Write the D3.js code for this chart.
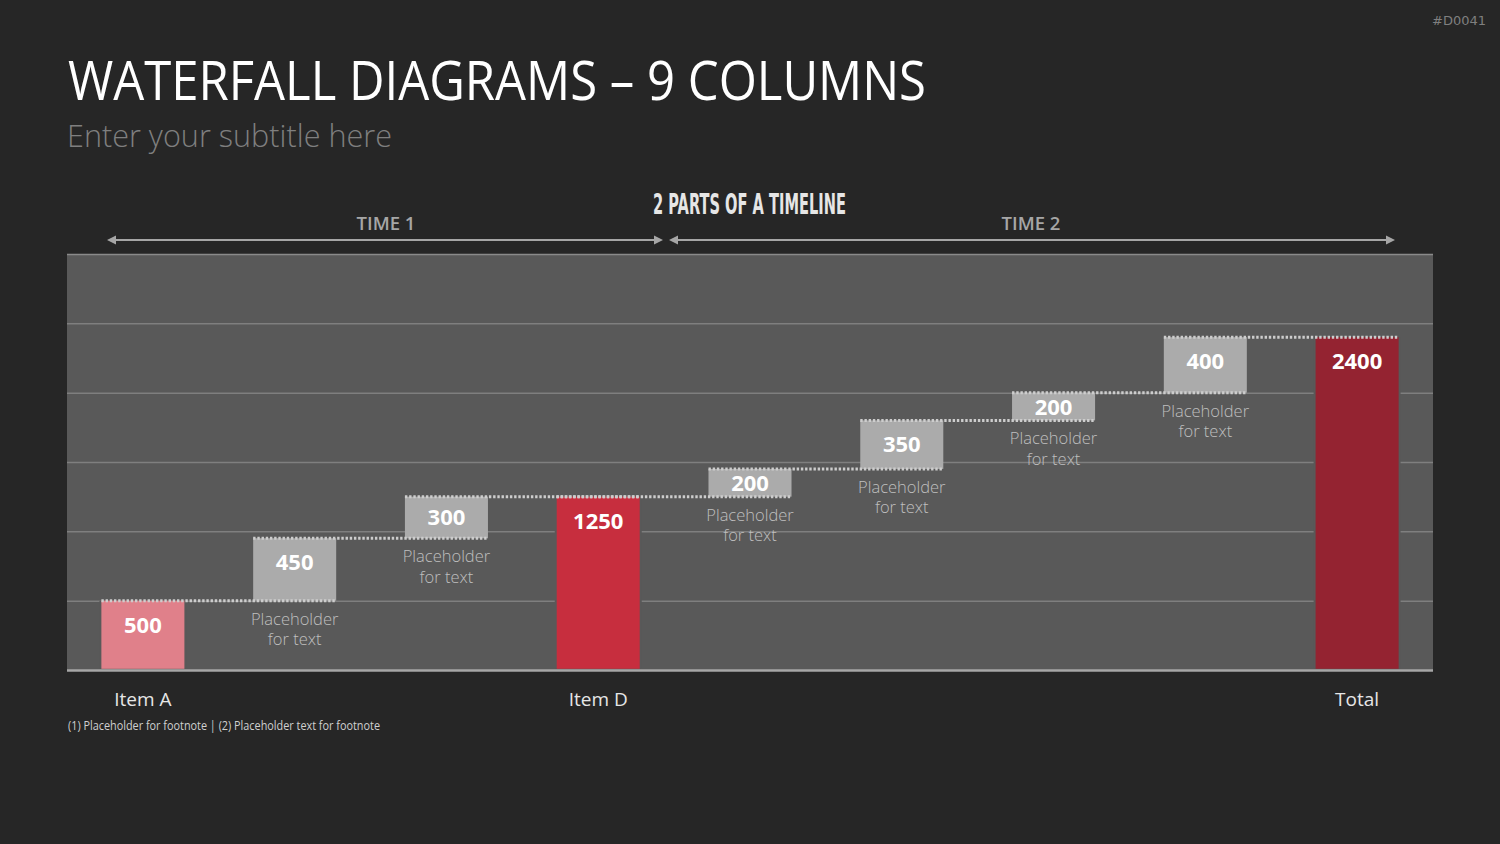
<!DOCTYPE html>
<html><head><meta charset="utf-8">
<script src="https://cdn.jsdelivr.net/npm/d3@7"></script>
<style>
html,body{margin:0;padding:0;background:#262626;}
svg{display:block;}
</style></head>
<body>
<svg id="chart" width="1500" height="844"></svg>
<script>
// ---- data ----
const categories = ["c1","c2","c3","c4","c5","c6","c7","c8","c9"];
const tickLabels = ["Item A","","","Item D","","","","","Total"];
const values = [500, 450, 300, 1250, 200, 350, 200, 400, 2400];
const kinds = ["total","delta","delta","total","delta","delta","delta","delta","total"];
const notes = ["", "Placeholder|for text", "Placeholder|for text", "", "Placeholder|for text", "Placeholder|for text", "Placeholder|for text", "Placeholder|for text", ""];
const yTicks = [0, 500, 1000, 1500, 2000, 2500, 3000];
const totalColors = ["#E0808A", "#C72E3E", "#942331"];

// ---- layout ----
const W = 1500, H = 844;
const plot = {left: 67, right: 1433, top: 254, bottom: 670};
const svg = d3.select("#chart");
svg.append("rect").attr("width", W).attr("height", H).attr("fill", "#262626");

const x = d3.scaleBand().domain(categories).range([plot.left, plot.right]).paddingInner(0.453).paddingOuter(0.2265);
const y = d3.scaleLinear().domain([0, 3000]).range([plot.bottom, plot.top]);

// compute waterfall starts/ends
let run = 0, ti = 0;
const bars = categories.map((c, i) => {
  let start, end, color;
  if (kinds[i] === "total") { start = 0; end = values[i]; run = values[i]; color = totalColors[ti++]; }
  else { start = run; end = run + values[i]; run = end; color = "#ABABAB"; }
  return {c, i, start, end, value: values[i], kind: kinds[i], color, note: notes[i]};
});

// plot background
svg.append("rect").attr("x", plot.left).attr("y", plot.top)
  .attr("width", plot.right - plot.left).attr("height", plot.bottom - plot.top).attr("fill", "#595959");

// gridlines
const grid = svg.append("g").attr("transform", `translate(${plot.left},0)`)
  .call(d3.axisLeft(y).tickValues(yTicks).tickSize(-(plot.right - plot.left)).tickFormat(""));
grid.select(".domain").remove();
grid.selectAll(".tick line").attr("stroke", "#7f7f7f").attr("stroke-width", 1.5);
grid.selectAll(".tick").filter(d => d === 0).select("line").attr("stroke", "#a6a6a6").attr("stroke-width", 2.5);
grid.selectAll(".tick").filter(d => d === 3000).select("line").attr("stroke", "#8a8a8a");

// halo behind total bars (gap in gridlines)
svg.append("g").selectAll("rect").data(bars.filter(b => b.kind === "total")).join("rect")
  .attr("x", d => x(d.c) - 2).attr("width", x.bandwidth() + 4)
  .attr("y", d => y(d.end)).attr("height", d => y(d.start) - y(d.end) - 1.5)
  .attr("fill", "#595959");

// bars
svg.append("g").selectAll("rect").data(bars).join("rect")
  .attr("x", d => x(d.c)).attr("width", x.bandwidth())
  .attr("y", d => y(d.end)).attr("height", d => y(d.start) - y(d.end) - (d.start === 0 ? 1.2 : 0))
  .attr("fill", d => d.color);

// dotted connectors
const conns = d3.pairs(bars).map(([a, b]) => ({x1: x(a.c), x2: x(b.c) + x.bandwidth(), level: a.end}));
svg.append("g").selectAll("line").data(conns).join("line")
  .attr("x1", d => d.x1).attr("x2", d => d.x2)
  .attr("y1", d => y(d.level)).attr("y2", d => y(d.level))
  .attr("stroke", "#cdcdcd").attr("stroke-width", 3).attr("stroke-dasharray", "2.4,1.8");

// value labels
svg.append("g").selectAll("text").data(bars).join("text")
  .attr("x", d => x(d.c) + x.bandwidth() / 2)
  .attr("y", d => { const h = y(d.start) - y(d.end); return y(d.end) + Math.min(24, h / 2) + 8; })
  .attr("text-anchor", "middle").attr("fill", "#ffffff")
  .attr("font-family", "'Open Sans', sans-serif").attr("font-weight", 700).attr("font-size", 22)
  .text(d => d.value);

// placeholder notes
const noteG = svg.append("g").selectAll("text").data(bars.filter(b => b.note)).join("text")
  .attr("text-anchor", "middle").attr("fill", "#bfbfbf")
  .attr("font-family", "'Open Sans', sans-serif").attr("font-weight", 300).attr("font-size", 16.5);
noteG.selectAll("tspan").data(d => d.note.split("|").map((t, k) => ({t, k, d}))).join("tspan")
  .attr("x", o => x(o.d.c) + x.bandwidth() / 2)
  .attr("y", o => y(o.d.start) + 24 + o.k * 20.5)
  .text(o => o.t);

// category axis
const xa = svg.append("g").attr("transform", `translate(0,${plot.bottom})`)
  .call(d3.axisBottom(x).tickSize(0).tickPadding(0).tickFormat((d, i) => tickLabels[i]));
xa.select(".domain").remove();
xa.selectAll("text").attr("y", 36).attr("dy", null).attr("fill", "#e6e6e6")
  .attr("font-family", "'Open Sans', sans-serif").attr("font-weight", 400).attr("font-size", 19);

// helper: place text horizontally squeezed to a target width
function fitText(sel, x0, y0, targetW) {
  const w = sel.node().getComputedTextLength();
  sel.attr("transform", `translate(${x0},${y0}) scale(${targetW / w},1)`);
}

// ---- titles ----
svg.append("text").attr("x", 68).attr("y", 100).attr("fill", "#ffffff")
  .attr("font-family", "'Open Sans', sans-serif").attr("font-size", 54)
  .attr("textLength", 858).attr("lengthAdjust", "spacingAndGlyphs")
  .text("WATERFALL DIAGRAMS – 9 COLUMNS");
svg.append("text").attr("x", 67).attr("y", 147).attr("fill", "#7f7f7f")
  .attr("font-family", "'Open Sans', sans-serif").attr("font-weight", 300).attr("font-size", 32)
  .attr("textLength", 325).attr("lengthAdjust", "spacingAndGlyphs")
  .text("Enter your subtitle here");
svg.append("text").attr("x", 1486).attr("y", 25).attr("text-anchor", "end").attr("fill", "#7f7f7f")
  .attr("font-family", "'DejaVu Sans', sans-serif").attr("font-size", 13)
  .text("#D0041");

// timeline header
const hdr = svg.append("text").attr("x", 0).attr("y", 0).attr("fill", "#e6e6e6")
  .attr("font-family", "'DejaVu Sans', sans-serif").attr("font-weight", 700).attr("font-size", 29)
  .text("2 PARTS OF A TIMELINE");
fitText(hdr, 653, 214, 193);

const timeLabels = [{t: "TIME 1", cx: 386, x1: 107, x2: 663}, {t: "TIME 2", cx: 1031, x1: 669, x2: 1395}];
const tl = svg.append("g");
tl.selectAll("text").data(timeLabels).join("text")
  .attr("x", d => d.cx).attr("y", 230).attr("text-anchor", "middle").attr("fill", "#a6a6a6")
  .attr("font-family", "'Open Sans', sans-serif").attr("font-weight", 600).attr("font-size", 18.5)
  .text(d => d.t);
tl.selectAll("line").data(timeLabels).join("line")
  .attr("x1", d => d.x1 + 6).attr("x2", d => d.x2 - 6).attr("y1", 240).attr("y2", 240)
  .attr("stroke", "#a6a6a6").attr("stroke-width", 2);
timeLabels.forEach(d => {
  tl.append("path").attr("d", `M${d.x1},240 L${d.x1 + 9},235.5 L${d.x1 + 9},244.5 Z`).attr("fill", "#a6a6a6");
  tl.append("path").attr("d", `M${d.x2},240 L${d.x2 - 9},235.5 L${d.x2 - 9},244.5 Z`).attr("fill", "#a6a6a6");
});

// footnote
svg.append("text").attr("x", 68).attr("y", 730).attr("fill", "#d0d0d0")
  .attr("font-family", "'Open Sans', sans-serif").attr("font-size", 12)
  .attr("textLength", 312).attr("lengthAdjust", "spacingAndGlyphs")
  .text("(1) Placeholder for footnote | (2) Placeholder text for footnote");
</script>
</body></html>
